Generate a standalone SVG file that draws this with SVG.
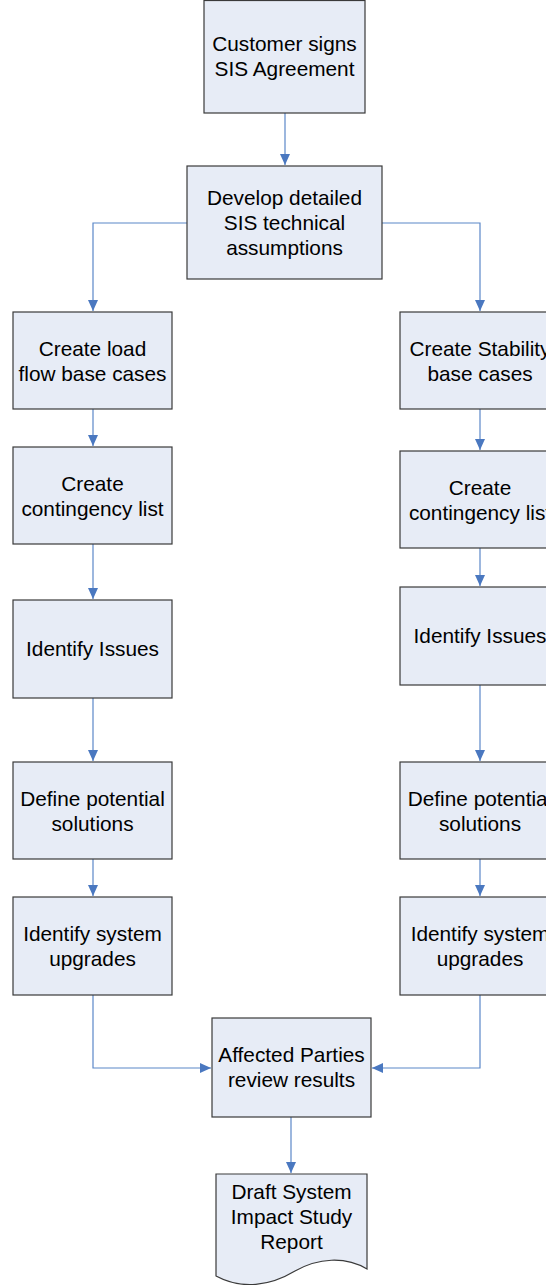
<svg xmlns="http://www.w3.org/2000/svg" width="546" height="1285" viewBox="0 0 546 1285">
<defs>
<style>
.box{fill:#E7ECF6;stroke:#3a3a3a;stroke-width:1.2}
.t{font-family:"Liberation Sans",Arial,sans-serif;font-size:20.8px;fill:#000;text-anchor:middle}
.c{fill:none;stroke:#5B87C8;stroke-width:1.2}
</style>
<marker id="ah" markerUnits="userSpaceOnUse" markerWidth="12" markerHeight="12" refX="11" refY="5" orient="auto" viewBox="0 0 12 10">
<path d="M0,0 L11,5 L0,10 Z" fill="#4A78C0"/>
</marker>
</defs>
<rect width="546" height="1285" fill="#fff"/>
<g id="connectors">
<path class="c" d="M285,113 V165" marker-end="url(#ah)"/>
<path class="c" d="M187,223 H93 V311" marker-end="url(#ah)"/>
<path class="c" d="M382,223 H480 V311" marker-end="url(#ah)"/>
<path class="c" d="M93,409 V446" marker-end="url(#ah)"/>
<path class="c" d="M93,544 V599" marker-end="url(#ah)"/>
<path class="c" d="M93,698 V761" marker-end="url(#ah)"/>
<path class="c" d="M93,859 V896" marker-end="url(#ah)"/>
<path class="c" d="M480,409 V450" marker-end="url(#ah)"/>
<path class="c" d="M480,548 V586" marker-end="url(#ah)"/>
<path class="c" d="M480,685 V761" marker-end="url(#ah)"/>
<path class="c" d="M480,859 V896" marker-end="url(#ah)"/>
<path class="c" d="M93,995 V1068 H211" marker-end="url(#ah)"/>
<path class="c" d="M480,995 V1068 H372" marker-end="url(#ah)"/>
<path class="c" d="M291,1117 V1173" marker-end="url(#ah)"/>
</g>
<g id="n1"><rect class="box" x="204" y="0.5" width="161" height="112.5"/>
<text class="t" x="284.5" y="51">Customer signs</text><text class="t" x="284.5" y="76">SIS Agreement</text></g>
<g id="n2"><rect class="box" x="187" y="166" width="195" height="113"/>
<text class="t" x="284.5" y="205">Develop detailed</text><text class="t" x="284.5" y="230">SIS technical</text><text class="t" x="284.5" y="255">assumptions</text></g>
<g id="l1"><rect class="box" x="13" y="312" width="159" height="97"/>
<text class="t" x="92.5" y="355.5">Create load</text><text class="t" x="92.5" y="380.5">flow base cases</text></g>
<g id="l2"><rect class="box" x="13" y="447" width="159" height="97"/>
<text class="t" x="92.5" y="490.5">Create</text><text class="t" x="92.5" y="515.5">contingency list</text></g>
<g id="l3"><rect class="box" x="13" y="600" width="159" height="98"/>
<text class="t" x="92.5" y="656">Identify Issues</text></g>
<g id="l4"><rect class="box" x="13" y="762" width="159" height="97"/>
<text class="t" x="92.5" y="805.5">Define potential</text><text class="t" x="92.5" y="830.5">solutions</text></g>
<g id="l5"><rect class="box" x="13" y="897" width="159" height="98"/>
<text class="t" x="92.5" y="941">Identify system</text><text class="t" x="92.5" y="966">upgrades</text></g>
<g id="r1"><rect class="box" x="400" y="312" width="160" height="97"/>
<text class="t" x="480" y="355.5">Create Stability</text><text class="t" x="480" y="380.5">base cases</text></g>
<g id="r2"><rect class="box" x="400" y="451" width="160" height="97"/>
<text class="t" x="480" y="494.5">Create</text><text class="t" x="480" y="519.5">contingency list</text></g>
<g id="r3"><rect class="box" x="400" y="587" width="160" height="98"/>
<text class="t" x="480" y="643">Identify Issues</text></g>
<g id="r4"><rect class="box" x="400" y="762" width="160" height="97"/>
<text class="t" x="480" y="805.5">Define potential</text><text class="t" x="480" y="830.5">solutions</text></g>
<g id="r5"><rect class="box" x="400" y="897" width="160" height="98"/>
<text class="t" x="480" y="941">Identify system</text><text class="t" x="480" y="966">upgrades</text></g>
<g id="n3"><rect class="box" x="212" y="1018" width="159" height="99"/>
<text class="t" x="291.5" y="1062">Affected Parties</text><text class="t" x="291.5" y="1087">review results</text></g>
<g id="n4"><path class="box" d="M216,1174 H367 V1269 C345,1256 318,1258 295,1271 C270,1286 242,1290 216,1276 Z"/>
<text class="t" x="291.5" y="1199">Draft System</text><text class="t" x="291.5" y="1224">Impact Study</text><text class="t" x="291.5" y="1249">Report</text></g>
</svg>
